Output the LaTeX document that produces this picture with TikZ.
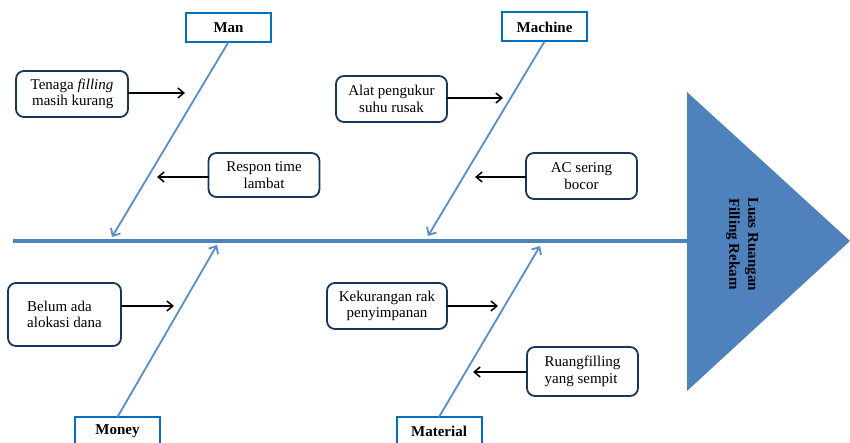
\documentclass[tikz,border=0pt]{standalone}
\usepackage{fontspec}
\setmainfont{Liberation Serif}
\usetikzlibrary{arrows.meta}
\definecolor{spineblue}{RGB}{79,129,189}
\definecolor{boneblue}{RGB}{88,141,205}
\definecolor{catblue}{RGB}{0,112,192}
\definecolor{causenavy}{RGB}{23,54,93}
\begin{document}
\begin{tikzpicture}[x=1pt,y=-1pt,inner sep=2pt,outer sep=0pt,
	cat/.style={draw=catblue,line width=2pt,fill=white,minimum width=85pt,minimum height=29pt,font=\fontsize{15}{18}\selectfont\bfseries},
	cause/.style={draw=causenavy,line width=1.8pt,rounded corners=8pt,fill=white,minimum width=111pt,minimum height=46pt,font=\fontsize{15}{16.5}\selectfont},
	bone/.style={draw=boneblue,line width=1.8pt,-{Straight Barb[length=6pt,width=11pt]}},
	push/.style={line width=1.5pt,-{Straight Barb[length=6pt,width=10pt]}}]
	\useasboundingbox (0,0) rectangle (850,443);
	\clip (0,0) rectangle (850,443);
	\coordinate (tail) at (13,241);
	\coordinate (head) at (687,241);
	\fill[spineblue] (687,92) -- (850,241) -- (687,391) -- cycle;
	\draw[spineblue,line width=4.5pt] (tail) -- (head);
	\node[rotate=-90,align=center,font=\fontsize{15}{19}\selectfont\bfseries] (effect) at (742,244) {Luas Ruangan\\Filling Rekam};
	\node[cat] (man) at (228.5,27.5) {Man};
	\node[cat] (machine) at (544.5,27) {Machine};
	\node[cat] (money) at (117.5,431.5) {Money};
	\node[cat] (material) at (439,431.5) {Material};
	\coordinate (manhit) at (112,237);
	\coordinate (machinehit) at (428,236);
	\coordinate (moneyhit) at (217,245);
	\coordinate (materialhit) at (540,246);
	\draw[bone] (man.south) -- (manhit);
	\draw[bone] (machine.south) -- (machinehit);
	\draw[bone] (money.north) -- (moneyhit);
	\draw[bone] (material.north) -- (materialhit);
	\node[cause,align=right,minimum width=112pt] (tenaga) at (72,94) {Tenaga \textit{filling}\\masih kurang};
	\node[cause,align=center,minimum height=44pt] (respon) at (264,175) {Respon time\\lambat};
	\node[cause,align=center] (alat) at (391.5,99) {Alat pengukur\\suhu rusak};
	\node[cause,align=center] (ac) at (581.5,176) {AC sering\\bocor};
	\node[cause,align=left,minimum width=113pt,minimum height=63pt] (belum) at (64.5,314.5) {Belum ada\\alokasi dana};
	\node[cause,align=center,minimum width=120pt] (kurang) at (387,306) {Kekurangan rak\\penyimpanan};
	\node[cause,align=left,minimum height=49pt] (ruang) at (582.5,371.5) {Ruangfilling\\yang sempit};
	\coordinate (tenagatip) at (185,93);
	\coordinate (respontip) at (157,177);
	\coordinate (alattip) at (503,98);
	\coordinate (actip) at (475,177);
	\coordinate (belumtip) at (174,306);
	\coordinate (kurangtip) at (498,306);
	\coordinate (ruangtip) at (473,372);
	\draw[push] (tenaga.east |- tenagatip) -- (tenagatip);
	\draw[push] (respon.west |- respontip) -- (respontip);
	\draw[push] (alat.east |- alattip) -- (alattip);
	\draw[push] (ac.west |- actip) -- (actip);
	\draw[push] (belum.east |- belumtip) -- (belumtip);
	\draw[push] (kurang.east |- kurangtip) -- (kurangtip);
	\draw[push] (ruang.west |- ruangtip) -- (ruangtip);
\end{tikzpicture}
\end{document}
